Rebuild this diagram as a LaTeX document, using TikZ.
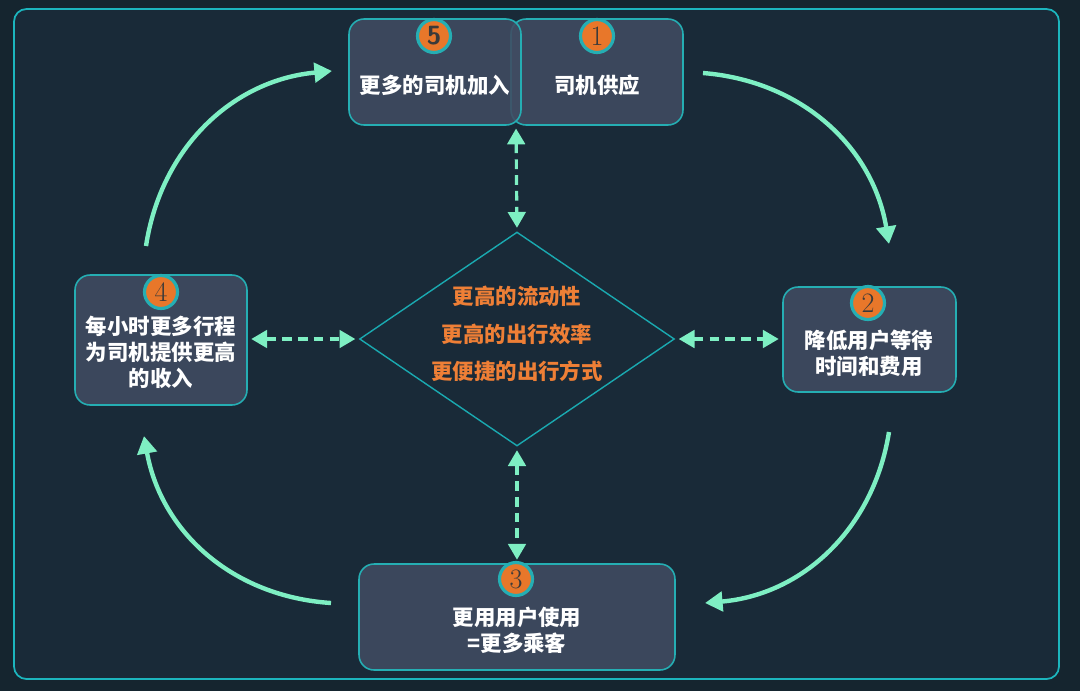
\documentclass[tikz,border=0pt]{standalone}
\usepackage{fontspec}
\newfontfamily\cjk{Noto Sans CJK SC}
\usetikzlibrary{positioning,arrows.meta,calc,shapes.geometric}
\definecolor{bgc}{HTML}{15252F}
\definecolor{panel}{HTML}{192A38}
\definecolor{framec}{HTML}{1CB5BD}
\definecolor{boxfill}{HTML}{404C62}
\definecolor{boxline}{HTML}{25AEB3}
\definecolor{dotfill}{HTML}{E8772A}
\definecolor{digit}{HTML}{3A3A3A}
\definecolor{mint}{HTML}{7EEFC3}
\definecolor{hubline}{HTML}{1AA9B0}
\definecolor{hubtxt}{HTML}{EE7F36}

\begin{document}
\begin{tikzpicture}[x=0.02cm, y=-0.02cm, >={Triangle[length=9pt,width=10pt]},
  card/.style={draw=boxline, line width=0.9pt, fill=boxfill, fill opacity=0.88, rounded corners=0.3cm, inner sep=0pt},
  numdot/.style={circle, draw=boxline, line width=1.8pt, fill=dotfill, minimum size=0.66cm, inner sep=0pt, text=digit, font=\fontsize{16}{16}\selectfont},
  cardtext/.style={text=white, align=center, font=\cjk\bfseries\fontsize{12.2}{14.8}\selectfont},
  cycarrow/.style={draw=mint, line width=2.5pt, -{Triangle[length=10pt,width=11pt]}, bend left=38},
  dashlink/.style={draw=mint, line width=1.8pt, dash pattern=on 5.5pt off 3.5pt, <->, shorten <=2pt, shorten >=2pt}]

  % background and frame
  \fill[bgc] (0,0) rectangle (1080,691);
  \useasboundingbox (0,0) rectangle (1080,691);
  \draw[framec, line width=1pt, fill=panel, rounded corners=0.25cm] (14,9) rectangle (1059,679);

  % centre
  \node[diamond, draw=hubline, line width=0.8pt, minimum width=6.3cm, minimum height=4.28cm, inner sep=0pt] (hub) at (517,339) {};
  \node[text=hubtxt, align=center, font=\cjk\bfseries\fontsize{12.2}{21.3}\selectfont] (hubtext) at (517,334) {更高的流动性\\更高的出行效率\\更便捷的出行方式};

  % cards
  \node[card, minimum width=3.44cm, minimum height=2.12cm] (b1) at (597,72) {};
  \node[card, minimum width=3.44cm, minimum height=2.12cm] (b5) at (435,72) {};
  \node[card, minimum width=3.46cm, minimum height=2.1cm] (b2) at (869.5,339.5) {};
  \node[card, minimum width=6.32cm, minimum height=2.12cm] (b3) at (517,617) {};
  \node[card, minimum width=3.44cm, minimum height=2.6cm] (b4) at (161,340) {};

  \node[numdot] (n1) at (597,36) {1};
  \node[numdot, font=\sffamily\bfseries\fontsize{15}{15}\selectfont] (n5) at (434,36) {5};
  \node[numdot] (n2) at (868,303) {2};
  \node[numdot] (n3) at (516,579) {3};
  \node[numdot] (n4) at (161,292) {4};

  \node[cardtext] (t1) at (597,85) {司机供应};
  \node[cardtext] (t5) at (435,85) {更多的司机加入};
  \node[cardtext] (t2) at (869,353) {降低用户等待\\时间和费用};
  \node[cardtext] (t3) at (517,630) {更用用户使用\\=更多乘客};
  \node[cardtext] (t4) at (161,352) {每小时更多行程\\为司机提供更高\\的收入};

  % dashed links to the centre
  \coordinate (top) at (516,125);
  \draw[dashlink] (top) -- (hub.north);
  \draw[dashlink] (b4.east |- hub.west) -- (hub.west);
  \draw[dashlink] (hub.east) -- (b2.west |- hub.east);
  \draw[dashlink] (hub.south) -- (b3.north);

  % outer cycle
  \coordinate (c1a) at (703,73);
  \coordinate (c1b) at (889,244);
  \coordinate (c2a) at (889,432);
  \coordinate (c2b) at (705,603);
  \coordinate (c3a) at (331,603);
  \coordinate (c3b) at (144,436);
  \coordinate (c4a) at (146,246);
  \coordinate (c4b) at (332,71);
  \draw[cycarrow] (c1a) to (c1b);
  \draw[cycarrow] (c2a) to (c2b);
  \draw[cycarrow] (c3a) to (c3b);
  \draw[cycarrow] (c4a) to (c4b);
\end{tikzpicture}
\end{document}
